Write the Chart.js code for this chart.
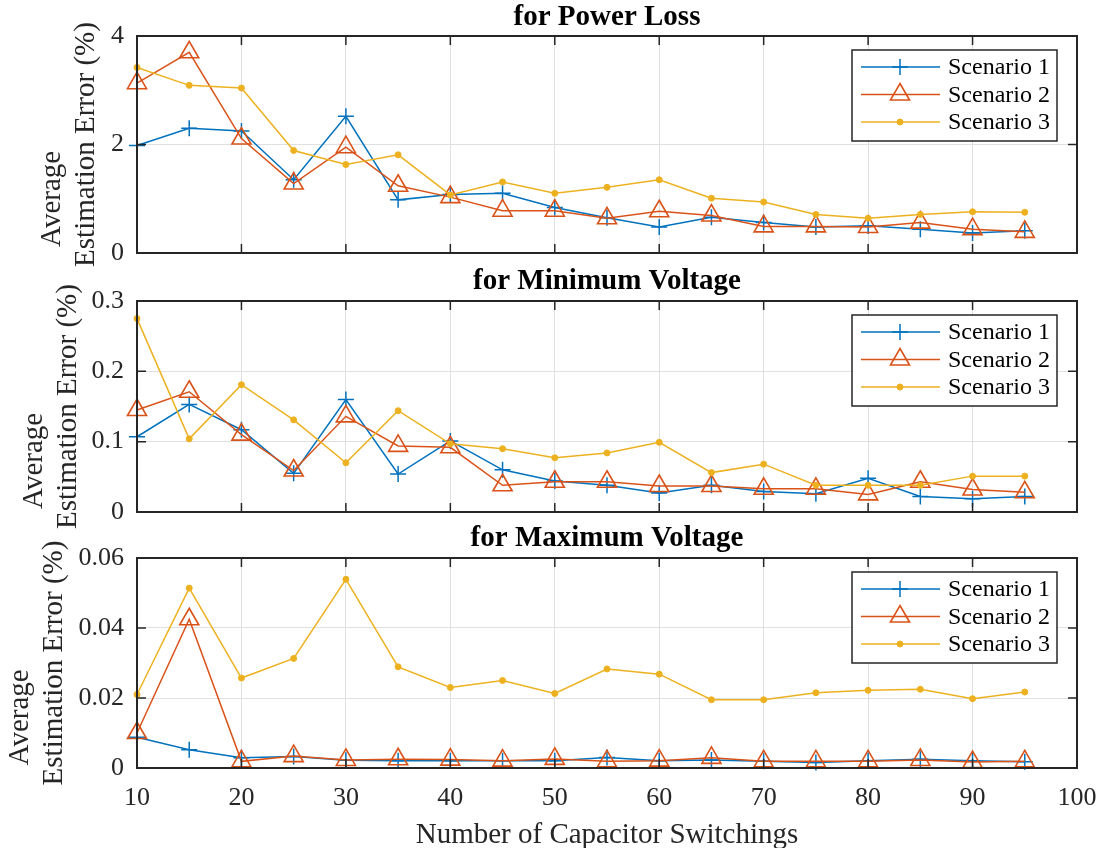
<!DOCTYPE html>
<html>
<head>
<meta charset="utf-8">
<script src="https://cdn.jsdelivr.net/npm/chart.js@4.4.1/dist/chart.umd.min.js"></script>
<style>
  html, body { margin: 0; padding: 0; background: #fff; overflow: hidden; }
  .panel { position: absolute; left: 0; width: 1102px; }
</style>
</head>
<body>
<div class="panel" style="top:0;height:270px"><canvas id="powerLossChart"></canvas></div>
<div class="panel" style="top:264px;height:265px"><canvas id="minVoltageChart"></canvas></div>
<div class="panel" style="top:521px;height:327px"><canvas id="maxVoltageChart"></canvas></div>
<script>
// x values shared by all three panels
const switchings = [10, 15, 20, 25, 30, 35, 40, 45, 50, 55, 60, 65, 70, 75, 80, 85, 90, 95];
const switchingTicks = [10, 20, 30, 40, 50, 60, 70, 80, 90, 100];
const scenarioNames = ['Scenario 1', 'Scenario 2', 'Scenario 3'];

// for Power Loss
const powerLossS1 = [1.98, 2.30, 2.25, 1.35, 2.52, 0.98, 1.08, 1.10, 0.84, 0.65, 0.48, 0.66, 0.56, 0.48, 0.50, 0.44, 0.37, 0.41];
const powerLossS2 = [3.13, 3.70, 2.11, 1.28, 1.95, 1.24, 1.03, 0.78, 0.78, 0.64, 0.77, 0.69, 0.49, 0.49, 0.48, 0.56, 0.44, 0.39];
const powerLossS3 = [3.42, 3.09, 3.04, 1.89, 1.63, 1.81, 1.07, 1.31, 1.10, 1.21, 1.35, 1.01, 0.94, 0.71, 0.64, 0.71, 0.76, 0.75];
const powerLossTicks = [0, 2, 4];

// for Minimum Voltage
const minVoltageS1 = [0.107, 0.153, 0.117, 0.055, 0.160, 0.054, 0.101, 0.060, 0.044, 0.038, 0.027, 0.038, 0.029, 0.026, 0.048, 0.022, 0.019, 0.022];
const minVoltageS2 = [0.145, 0.171, 0.110, 0.059, 0.136, 0.094, 0.092, 0.038, 0.043, 0.043, 0.037, 0.037, 0.033, 0.033, 0.025, 0.043, 0.032, 0.028];
const minVoltageS3 = [0.275, 0.104, 0.181, 0.131, 0.070, 0.144, 0.097, 0.090, 0.077, 0.084, 0.099, 0.056, 0.068, 0.038, 0.038, 0.038, 0.051, 0.051];
const minVoltageTicks = [0, 0.1, 0.2, 0.3];

// for Maximum Voltage
const maxVoltageS1 = [0.0088, 0.0052, 0.0029, 0.0033, 0.0022, 0.0021, 0.0021, 0.0021, 0.0021, 0.0030, 0.0021, 0.0023, 0.0019, 0.0016, 0.0021, 0.0025, 0.0021, 0.0018];
const maxVoltageS2 = [0.0100, 0.0425, 0.0019, 0.0034, 0.0023, 0.0025, 0.0024, 0.0021, 0.0026, 0.0019, 0.0021, 0.0029, 0.0019, 0.0019, 0.0019, 0.0023, 0.0017, 0.0019];
const maxVoltageS3 = [0.0210, 0.0514, 0.0257, 0.0313, 0.0539, 0.0289, 0.0230, 0.0250, 0.0213, 0.0283, 0.0268, 0.0195, 0.0195, 0.0215, 0.0222, 0.0225, 0.0198, 0.0217];
const maxVoltageTicks = [0, 0.02, 0.04, 0.06];

const FONT = "'Liberation Serif', 'Times New Roman', serif";
const AXIS_COLOR = '#262626';
const GRID_COLOR = '#e0e0e0';

// MATLAB default line colours and markers
const seriesStyles = [
    { color: '#0072BD', pointStyle: 'cross', radius: 8, borderWidth: 1.5, fill: '#0072BD' },
    { color: '#D95319', pointStyle: 'triangle', radius: 11, borderWidth: 1.6, fill: 'rgba(0,0,0,0)' },
    { color: '#EDB120', pointStyle: 'circle', radius: 3, borderWidth: 1, fill: '#EDB120' }
];

// box around the axes with inward tick marks on all four sides
const axesBoxPlugin = {
    id: 'axesBox',
    afterDatasetsDraw(chart) {
        const { ctx, chartArea: a, scales } = chart;
        const tickLen = 9;
        ctx.save();
        ctx.strokeStyle = AXIS_COLOR;
        ctx.lineWidth = 1.5;
        ctx.beginPath();
        scales.x.ticks.forEach(t => {
            const px = scales.x.getPixelForValue(t.value);
            ctx.moveTo(px, a.top);
            ctx.lineTo(px, a.top + tickLen);
            ctx.moveTo(px, a.bottom);
            ctx.lineTo(px, a.bottom - tickLen);
        });
        scales.y.ticks.forEach(t => {
            const py = scales.y.getPixelForValue(t.value);
            ctx.moveTo(a.left, py);
            ctx.lineTo(a.left + tickLen, py);
            ctx.moveTo(a.right, py);
            ctx.lineTo(a.right - tickLen, py);
        });
        ctx.stroke();
        ctx.lineWidth = 2;
        ctx.strokeRect(a.left, a.top, a.right - a.left, a.bottom - a.top);
        ctx.restore();
    }
};

// MATLAB-like boxed legend in the top right corner
const boxLegendPlugin = {
    id: 'boxLegend',
    afterDraw(chart) {
        const { ctx, chartArea: a } = chart;
        const w = 205, h = 91;
        const left = a.right - 20 - w;
        const top = a.top + 14;
        ctx.save();
        ctx.fillStyle = '#fff';
        ctx.fillRect(left, top, w, h);
        ctx.strokeStyle = AXIS_COLOR;
        ctx.lineWidth = 1.5;
        ctx.strokeRect(left, top, w, h);

        chart.data.datasets.forEach((ds, i) => {
            const style = seriesStyles[i];
            const cy = top + 17 + i * 27.5;
            ctx.strokeStyle = style.color;
            ctx.lineWidth = 1.5;
            ctx.beginPath();
            ctx.moveTo(left + 9, cy);
            ctx.lineTo(left + 88, cy);
            ctx.stroke();
            ctx.fillStyle = style.fill;
            ctx.lineWidth = style.borderWidth;
            Chart.helpers.drawPoint(ctx, {
                pointStyle: style.pointStyle,
                radius: style.radius,
                rotation: 0,
                borderWidth: style.borderWidth
            }, left + 48, cy);
            ctx.fillStyle = '#000';
            ctx.font = '24px ' + FONT;
            ctx.textAlign = 'left';
            ctx.textBaseline = 'middle';
            ctx.fillText(ds.label, left + 96, cy + 1);
        });
        ctx.restore();
    }
};

function buildDatasets(seriesList) {
    return seriesList.map((values, i) => {
        const style = seriesStyles[i];
        return {
            label: scenarioNames[i],
            data: values.map((v, j) => ({ x: switchings[j], y: v })),
            borderColor: style.color,
            backgroundColor: style.fill,
            borderWidth: 1.5,
            pointStyle: style.pointStyle,
            pointRadius: style.radius,
            pointBorderColor: style.color,
            pointBackgroundColor: style.fill,
            pointBorderWidth: style.borderWidth,
            tension: 0,
            clip: false,
            order: 2 - i
        };
    });
}

function makePanel(canvasId, cfg) {
    const ctx = document.getElementById(canvasId).getContext('2d');
    const isBottom = !!cfg.showX;
    const yMax = cfg.yTicks[cfg.yTicks.length - 1];

    return new Chart(ctx, {
        type: 'line',
        data: { datasets: buildDatasets(cfg.series) },
        options: {
            responsive: true,
            maintainAspectRatio: false,
            animation: false,
            layout: {
                padding: { left: 0, right: 25, top: 0, bottom: isBottom ? 0 : 17 }
            },
            scales: {
                x: {
                    type: 'linear',
                    min: 10,
                    max: 100,
                    afterBuildTicks: scale => {
                        scale.ticks = switchingTicks.map(v => ({ value: v }));
                    },
                    afterFit: scale => {
                        scale.height = isBottom ? 80 : 0;
                        scale.paddingLeft = 0;
                        scale.paddingRight = 0;
                    },
                    grid: { color: GRID_COLOR, drawTicks: false },
                    border: { display: false },
                    ticks: {
                        display: isBottom,
                        padding: 15,
                        color: AXIS_COLOR,
                        font: { family: FONT, size: 26 },
                        callback: v => String(v)
                    },
                    title: {
                        display: isBottom,
                        text: 'Number of Capacitor Switchings',
                        color: AXIS_COLOR,
                        padding: 0,
                        font: { family: FONT, size: 29, lineHeight: 0.9 }
                    }
                },
                y: {
                    min: 0,
                    max: yMax,
                    afterBuildTicks: scale => {
                        scale.ticks = cfg.yTicks.map(v => ({ value: v }));
                    },
                    afterFit: scale => {
                        scale.width = 137;
                        scale.paddingTop = 0;
                        scale.paddingBottom = 0;
                    },
                    grid: { color: GRID_COLOR, drawTicks: false },
                    border: { display: false },
                    ticks: {
                        padding: 13,
                        color: AXIS_COLOR,
                        font: { family: FONT, size: 26 },
                        callback: v => String(v)
                    },
                    title: {
                        display: true,
                        text: ['Average' + '\u00a0'.repeat(15), 'Estimation Error (%)'],
                        color: AXIS_COLOR,
                        padding: { top: cfg.yTitlePad, bottom: 0 },
                        font: { family: FONT, size: 29, lineHeight: 1.15 }
                    }
                }
            },
            plugins: {
                legend: { display: false },
                tooltip: { enabled: false },
                title: {
                    display: true,
                    text: cfg.title,
                    fullSize: false,
                    color: '#000',
                    padding: { top: 0, bottom: cfg.titleGap },
                    font: { family: FONT, size: 29, weight: 'bold', lineHeight: 1.2 }
                }
            }
        },
        plugins: [axesBoxPlugin, boxLegendPlugin]
    });
}

document.addEventListener('DOMContentLoaded', function() {
    makePanel('powerLossChart', {
        title: 'for Power Loss',
        series: [powerLossS1, powerLossS2, powerLossS3],
        yTicks: powerLossTicks,
        yTitlePad: 36,
        titleGap: 1.2
    });
    makePanel('minVoltageChart', {
        title: 'for Minimum Voltage',
        series: [minVoltageS1, minVoltageS2, minVoltageS3],
        yTicks: minVoltageTicks,
        yTitlePad: 18,
        titleGap: 2.2
    });
    makePanel('maxVoltageChart', {
        title: 'for Maximum Voltage',
        series: [maxVoltageS1, maxVoltageS2, maxVoltageS3],
        yTicks: maxVoltageTicks,
        yTitlePad: 4,
        titleGap: 2.2,
        showX: true
    });
});
</script>
</body>
</html>
